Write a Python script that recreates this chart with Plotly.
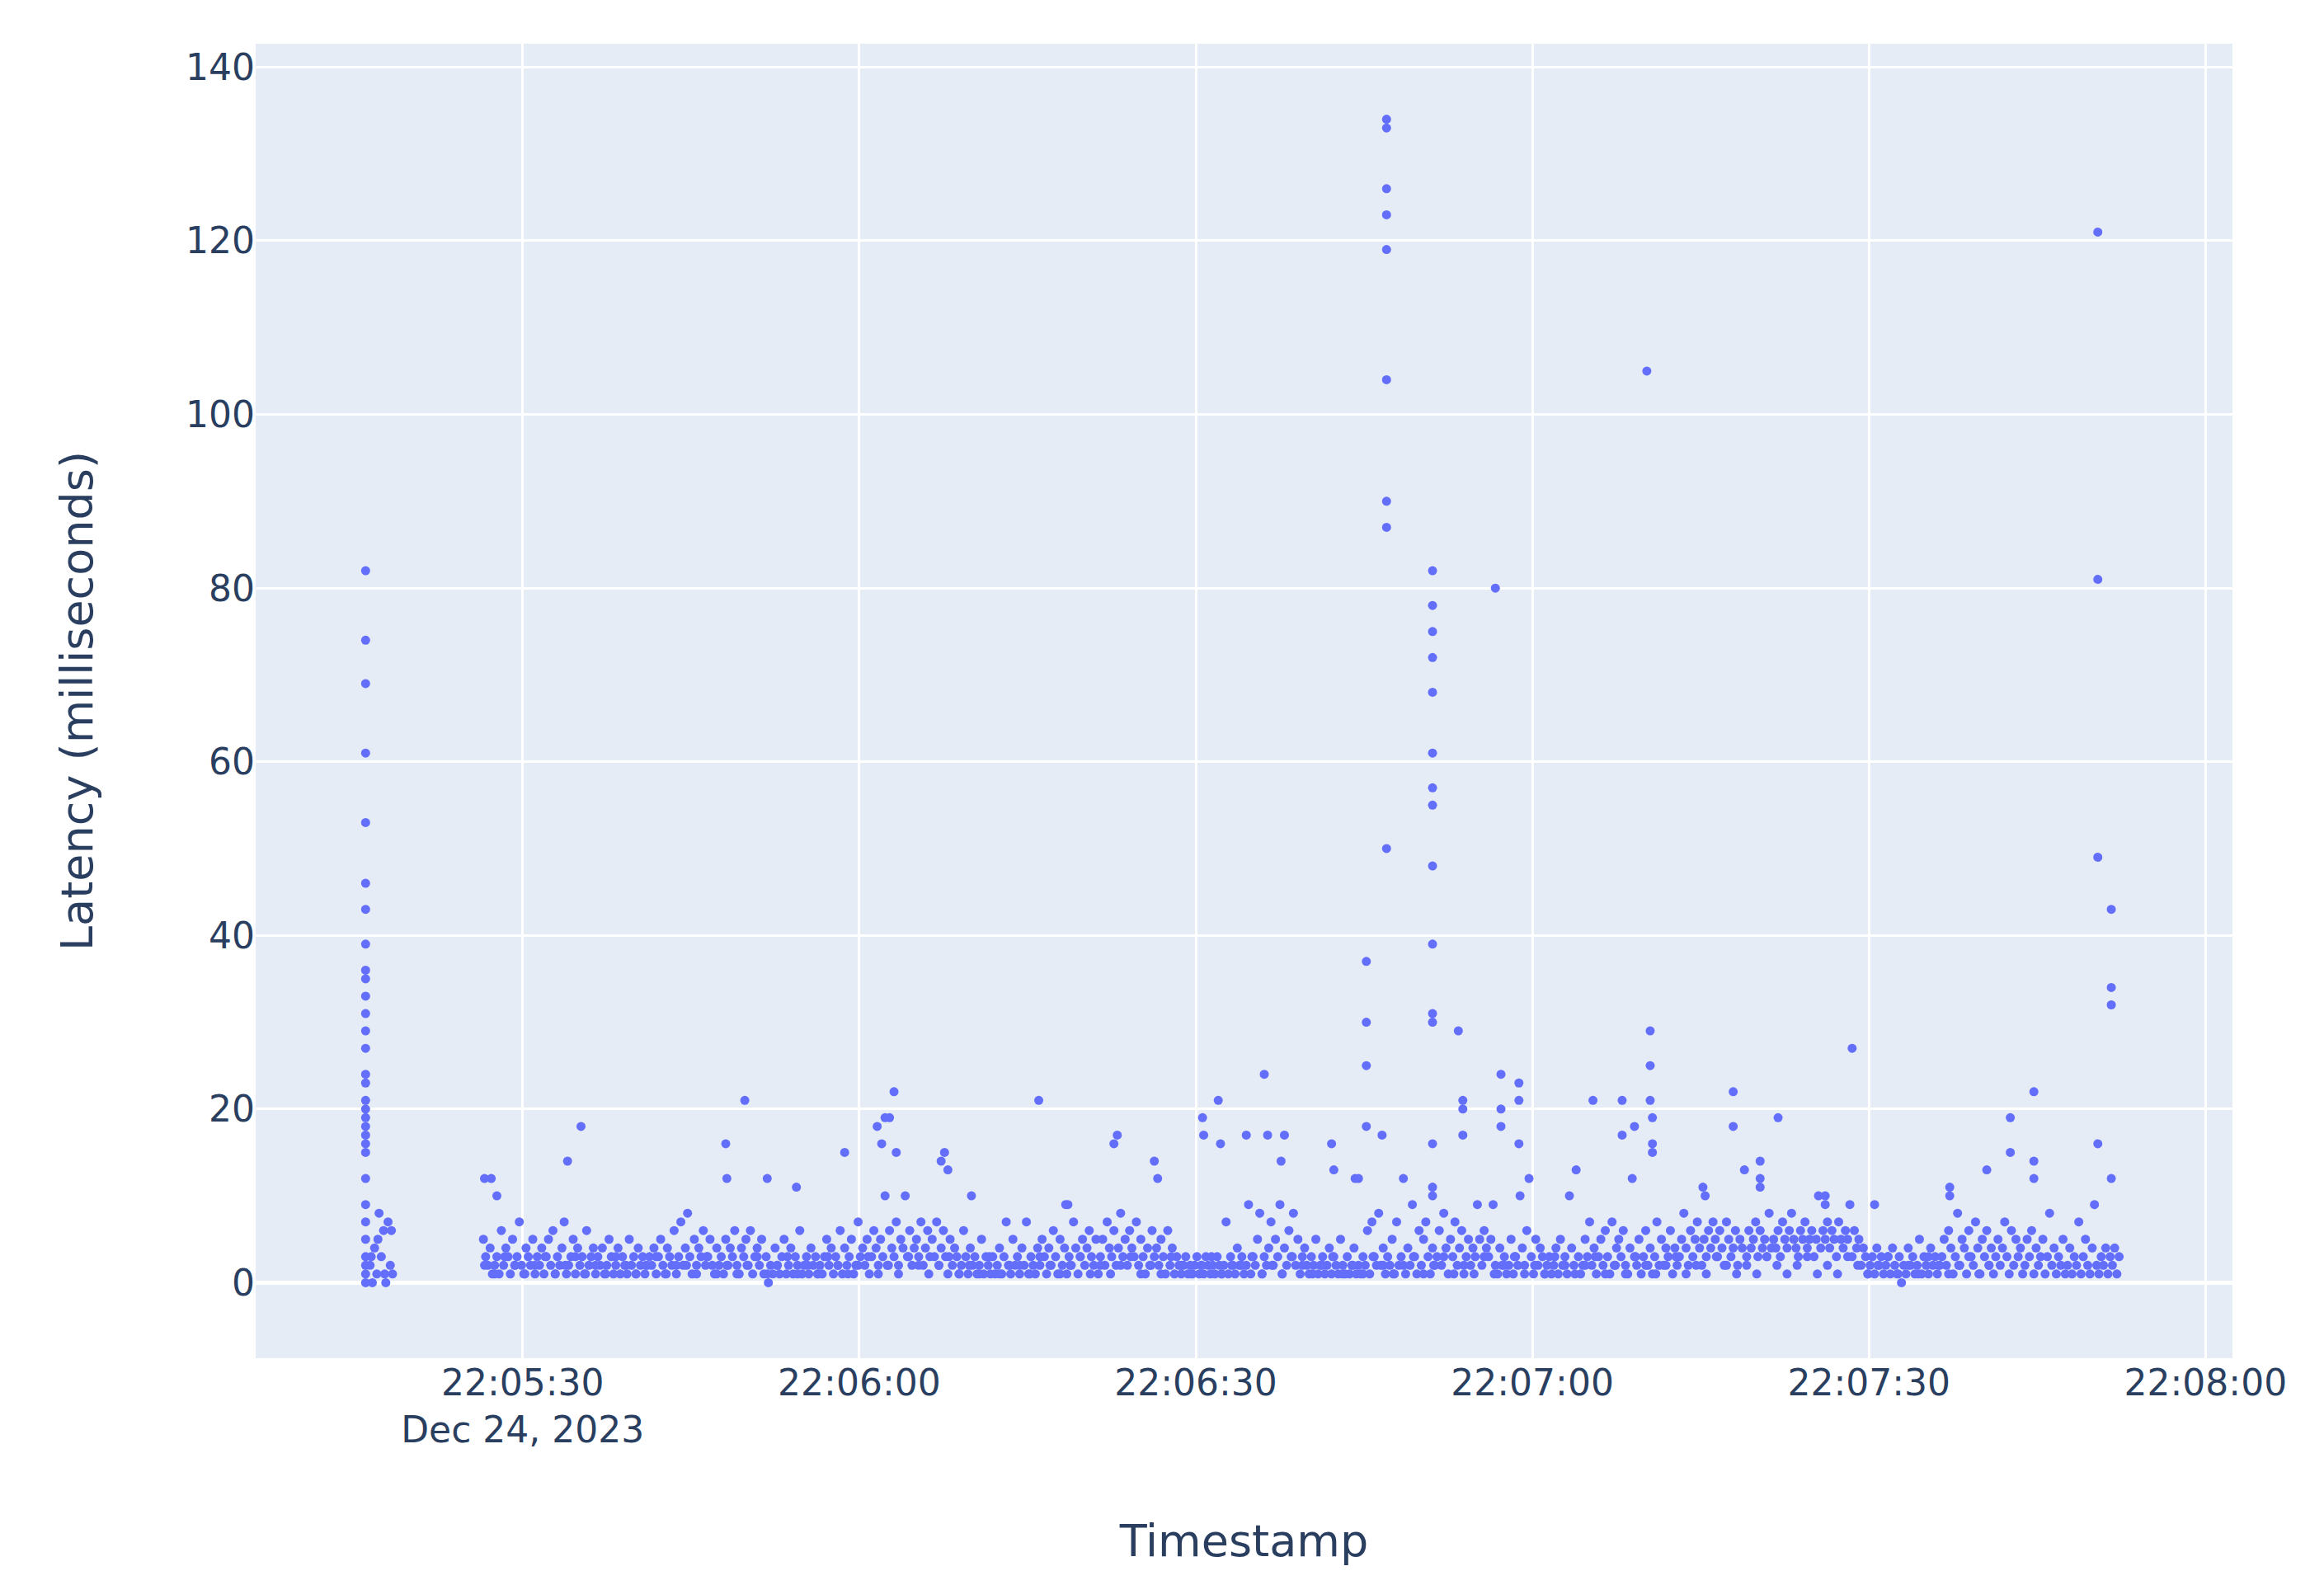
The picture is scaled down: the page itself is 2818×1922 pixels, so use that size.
import numpy as np
import pandas as pd
import plotly.graph_objects as go

# seconds after 22:05:00 on Dec 24, 2023
base_day = pd.Timestamp("2023-12-24 22:05:00")

# first burst
burst_t = [16.0] * 31 + [16.4, 16.6, 16.8, 17.0, 17.2, 17.4, 17.6, 17.8, 18.0, 18.2, 18.4, 16.5, 17.1, 17.7, 18.3]
burst_v = [82, 74, 69, 61, 53, 46, 43, 39, 36, 35, 33, 31, 29, 27, 24, 23, 21, 20, 19, 18, 17, 16, 15, 12, 9, 7, 5, 3, 2, 1, 0,
           2, 0, 4, 1, 8, 3, 6, 0, 7, 2, 1, 3, 5, 1, 6]

# steady traffic, one sample every 0.2 s from t=26.5
steady_start = 26.5
steady_v = [
    5, 3, 2, 4, 1, 2, 3, 1, 6, 2, 4, 3, 1, 5, 2, 3, 7, 2, 1, 4, 3, 2, 5, 1, 3,
    2, 4, 1, 3, 5, 2, 6, 1, 3, 2, 4, 7, 1, 2, 3, 5, 1, 4, 2, 3, 1, 6, 2, 3, 4,
    1, 3, 2, 4, 1, 2, 5, 3, 1, 2, 4, 1, 3, 2, 1, 5, 2, 3, 1, 4, 2, 3, 1, 2, 3,
    2, 4, 1, 3, 5, 2, 1, 4, 3, 2, 6, 1, 3, 7, 2, 4, 8, 3, 1, 5, 2, 4, 3, 6, 2,
    3, 5, 2, 1, 4, 2, 3, 1, 5, 2, 4, 3, 6, 2, 1, 4, 3, 5, 2, 6, 1, 3, 4, 2, 5,
    1, 3, 0, 2, 1, 4, 2, 1, 3, 5, 1, 2, 4, 1, 3, 2, 6, 1, 2, 3, 1, 4, 2, 3, 1,
    2, 1, 3, 5, 2, 4, 1, 3, 2, 6, 1, 4, 2, 3, 5, 1, 2, 7, 3, 4, 2, 5, 1, 3, 6,
    4, 2, 5, 3, 10, 2, 6, 4, 3, 7, 2, 5, 4, 10, 3, 6, 2, 4, 5, 3, 7, 2, 4, 6, 3,
    5, 3, 7, 2, 4, 6, 3, 1, 5, 2, 4, 3, 1, 2, 6, 3, 1, 4, 2, 3, 1, 2, 5, 1, 3,
    2, 1, 3, 1, 2, 4, 1, 3, 7, 2, 1, 5, 2, 3, 1, 4, 2, 7, 1, 3, 2, 1, 4, 2, 5,
    3, 1, 4, 2, 6, 3, 1, 5, 2, 4, 1, 3, 2, 7, 4, 1, 3, 5, 2, 4, 6, 3, 2, 5, 1,
    3, 5, 2, 7, 4, 3, 6, 2, 4, 8, 3, 5, 2, 6, 4, 3, 7, 2, 5, 3, 1, 4, 2, 6, 3,
    4, 2, 5, 3, 1, 6, 2, 4, 1, 3, 2, 1, 2, 3, 1, 2, 1, 2, 3, 1, 2, 1, 3, 2, 1,
    2, 1, 3, 2, 1, 2, 7, 1, 3, 2, 1, 4, 2, 3, 1, 2, 9, 1, 3, 2, 5, 8, 1, 3, 2,
    4, 7, 2, 5, 3, 9, 1, 4, 2, 6, 3, 8, 2, 5, 1, 3, 4, 2, 1, 3, 2, 5, 1, 2, 3,
    1, 2, 4, 1, 3, 2, 1, 5, 2, 1, 3, 1, 2, 4, 1, 2, 1, 3, 2, 6, 1, 7, 3, 2, 8,
    2, 4, 1, 3, 2, 5, 1, 7, 2, 3, 12, 1, 4, 2, 9, 3, 1, 6, 2, 5, 7, 3, 1, 4, 2,
    3, 6, 2, 8, 4, 1, 5, 3, 7, 2, 4, 6, 1, 3, 5, 2, 4, 3, 9, 5, 2, 6, 4, 3, 5,
    9, 2, 1, 4, 2, 3, 1, 2, 5, 1, 3, 2, 10, 4, 2, 6, 12, 3, 1, 5, 2, 4, 3, 1, 2,
    3, 1, 2, 4, 1, 5, 2, 3, 1, 10, 4, 2, 13, 3, 1, 2, 5, 3, 7, 2, 4, 1, 3, 5, 2,
    6, 3, 1, 7, 2, 4, 5, 3, 6, 2, 1, 4, 12, 3, 2, 5, 1, 3, 6, 2, 4, 1, 3, 7, 2,
    5, 2, 4, 3, 6, 1, 4, 2, 3, 5, 8, 4, 2, 6, 3, 5, 7, 4, 2, 5, 3, 6, 4, 7, 5,
    3, 6, 4, 2, 7, 5, 3, 4, 6, 2, 5, 4, 13, 3, 6, 4, 5, 7, 3, 6, 4, 5, 3, 8, 4,
    5, 4, 6, 3, 7, 5, 4, 6, 8, 5, 4, 3, 6, 5, 7, 4, 5, 6, 3, 5, 10, 4, 6, 5, 7,
    4, 6, 5, 3, 7, 5, 4, 6, 5, 9, 3, 6, 4, 5, 2, 4, 3, 1, 2, 3, 1, 4, 2, 3, 1,
    2, 3, 1, 4, 2, 1, 3, 0, 2, 1, 4, 2, 3, 1, 2, 5, 1, 3, 2, 1, 4, 2, 3, 1, 2,
    3, 5, 2, 6, 4, 1, 3, 8, 2, 5, 4, 1, 6, 3, 2, 7, 4, 1, 5, 3, 6, 2, 4, 1, 3,
    5, 2, 4, 7, 3, 1, 6, 2, 5, 3, 4, 1, 2, 5, 3, 6, 1, 4, 2, 3, 5, 1, 3, 8, 2,
    4, 1, 3, 2, 5, 1, 2, 4, 1, 3, 2, 7, 1, 3, 5, 2, 1, 4, 9, 2, 1, 3, 2, 4, 1,
    3, 2, 4, 1, 3,
]
# second, lower band sampled between the above (baseline 1-3 ms)
steady_v2 = [
    2, 1, 3, 2, 1, 2, 3, 1, 2, 3, 1, 2, 1, 3, 2, 1, 2, 3, 1, 2, 2, 1, 3, 1, 2,
    1, 2, 3, 1, 2, 3, 1, 2, 1, 3, 2, 1, 2, 3, 1, 2, 1, 3, 2, 1, 2, 3, 1, 2, 1,
    3, 1, 2, 2, 1, 3, 2, 1, 2, 3, 1, 2, 1, 2, 3, 1, 2, 1, 3, 2, 1, 2, 3, 1, 2,
    2, 3, 1, 2, 1, 3, 2, 1, 2, 3, 1, 2, 1, 3, 2, 1, 2, 3, 1, 2, 3, 1, 2, 1, 3,
    1, 2, 3, 1, 2, 1, 3, 2, 1, 2, 3, 1, 2, 1, 3, 2, 1, 2, 3, 1, 2, 1, 3, 2, 1,
    2, 1, 3, 2, 1, 2, 3, 1, 2, 1, 3, 2, 1, 2, 3, 1, 2, 1, 3, 2, 1, 2, 3, 1, 2,
]

# isolated high readings (t, ms)
spike_t = [26.6, 27.2, 27.7, 34.0, 35.2, 48.1, 48.2, 49.8, 51.8, 54.4, 58.7, 61.6, 62.0, 62.3, 62.7, 63.1, 63.3,
           67.3, 67.6, 67.9, 70.0, 76.0, 78.4, 78.6, 82.7, 83.0, 86.3, 86.6, 90.6, 90.7, 92.0, 92.2, 94.5, 96.1, 96.4,
           97.6, 97.9, 102.1, 102.3, 104.2, 104.5, 106.6,
           105.2, 105.2, 105.2, 105.2,
           107.0, 107.0, 107.0, 107.0, 107.0, 107.0, 107.0, 107.0, 107.0,
           111.1, 111.1, 111.1, 111.1, 111.1, 111.1, 111.1, 111.1, 111.1, 111.1, 111.1, 111.1, 111.1, 111.1, 111.1,
           113.4, 113.8, 113.8, 113.8, 116.7, 117.2, 117.2, 117.2, 118.8, 118.8, 118.8,
           125.4, 128.0, 128.0, 129.1, 130.2, 130.5, 130.5, 130.5, 130.7, 130.7, 130.7,
           135.2, 135.4, 137.9, 137.9, 140.3, 140.3, 140.3, 141.9, 146.1, 146.1, 148.5, 150.5,
           157.2, 157.2, 160.5, 162.6, 162.6, 164.7, 164.7, 164.7,
           170.4, 170.4, 170.4, 170.4, 171.6, 171.6, 171.6, 171.6]
spike_v = [12, 12, 10, 14, 18, 16, 12, 21, 12, 11, 15, 18, 16, 19, 19, 22, 15,
           14, 15, 13, 10, 21, 9, 9, 16, 17, 14, 12, 19, 17, 21, 16, 17, 24, 17,
           14, 17, 16, 13, 12, 12, 17,
           37, 30, 25, 18,
           134, 133, 126, 123, 119, 104, 90, 87, 50,
           82, 78, 75, 72, 68, 61, 57, 55, 48, 39, 31, 30, 16, 11, 10,
           29, 21, 20, 17, 80, 24, 20, 18, 23, 21, 16,
           21, 21, 17, 18, 105, 29, 25, 21, 19, 16, 15,
           11, 10, 22, 18, 14, 11, 12, 19, 10, 9, 27, 9,
           11, 10, 13, 19, 15, 22, 14, 12,
           121, 81, 49, 16, 43, 34, 32, 12]

steady_t = steady_start + 0.2 * np.arange(len(steady_v))
steady_t2 = steady_start + 0.1 + 0.9 * np.arange(len(steady_v2))

t_all = np.concatenate([burst_t, steady_t, steady_t2, spike_t])
v_all = np.concatenate([burst_v, steady_v, steady_v2, spike_v])
timestamps = base_day + pd.to_timedelta(t_all, unit="s")

fig = go.Figure(go.Scatter(
    x=timestamps,
    y=v_all,
    mode="markers",
    marker=dict(color="#636efa", size=11),
))

fig.update_layout(
    template="plotly",
    width=2818,
    height=1922,
    margin=dict(l=302, r=119, t=45, b=283),
    font=dict(family="DejaVu Sans", size=44, color="#2a3f5f"),
    showlegend=False,
    xaxis=dict(
        title=dict(text="Timestamp", standoff=90, font=dict(size=54)),
        range=[base_day + pd.Timedelta(seconds=6.2), base_day + pd.Timedelta(seconds=182.4)],
        dtick=30000,
        gridwidth=3,
    ),
    yaxis=dict(
        title=dict(text="Latency (milliseconds)", standoff=95, font=dict(size=54)),
        range=[-8.7, 142.7],
        dtick=20,
        gridwidth=3,
        zerolinewidth=5,
    ),
)

fig.write_html("out.html")
